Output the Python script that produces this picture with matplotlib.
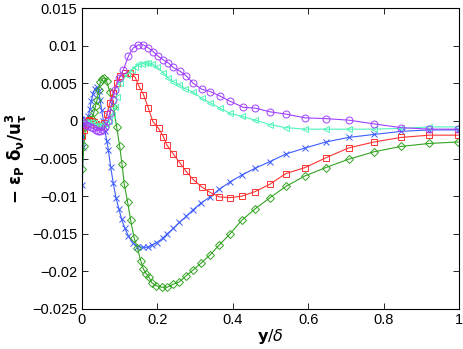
import matplotlib
matplotlib.use('Agg')
import matplotlib.pyplot as plt

plt.rcParams['font.family'] = ['Liberation Sans', 'DejaVu Sans']
plt.rcParams['mathtext.fontset'] = 'dejavusans'

# blue, x markers
x_blue = [0.001, 0.003, 0.005, 0.008, 0.011, 0.014, 0.017, 0.021, 0.025, 0.029, 0.034, 0.039,
          0.044, 0.048, 0.052, 0.057, 0.061, 0.066, 0.070, 0.076, 0.083, 0.090, 0.098, 0.105,
          0.114, 0.123, 0.134, 0.147, 0.161, 0.174, 0.185, 0.198, 0.214, 0.226, 0.242, 0.258,
          0.276, 0.295, 0.316, 0.340, 0.364, 0.393, 0.424, 0.459, 0.499, 0.541, 0.592, 0.647,
          0.707, 0.775, 0.846, 0.921, 0.998]
y_blue = [-0.0085, -0.0035, -0.0005, 0.0002, 0.0002, 0.0001, 0.0006, 0.0016, 0.0027, 0.0036, 0.0042, 0.0045,
          0.0040, 0.0028, 0.0015, 0.0000, -0.0014, -0.0027, -0.0039, -0.0061, -0.0083, -0.0102, -0.0117, -0.0131,
          -0.0143, -0.0153, -0.0162, -0.0167, -0.0168, -0.0168, -0.0165, -0.0162, -0.0156, -0.0150, -0.0143, -0.0135,
          -0.0127, -0.0118, -0.0109, -0.0101, -0.0091, -0.0081, -0.0072, -0.0063, -0.0054, -0.0044, -0.0036, -0.0028,
          -0.0022, -0.0018, -0.0014, -0.0012, -0.0012]

# green, diamonds
x_green = [0.001, 0.005, 0.009, 0.013, 0.018, 0.023, 0.027, 0.032, 0.036, 0.040, 0.044, 0.049,
           0.054, 0.059, 0.065, 0.074, 0.083, 0.092, 0.100, 0.106, 0.112, 0.121, 0.129, 0.138,
           0.147, 0.156, 0.163, 0.170, 0.178, 0.185, 0.196, 0.211, 0.226, 0.242, 0.258, 0.276,
           0.295, 0.316, 0.340, 0.364, 0.393, 0.424, 0.459, 0.499, 0.541, 0.592, 0.647, 0.707,
           0.775, 0.846, 0.921, 0.998]
y_green = [-0.0064, -0.0033, -0.0008, 0.0000, 0.0002, 0.0000, 0.0003, 0.0012, 0.0020, 0.0028, 0.0041, 0.0052,
           0.0056, 0.0057, 0.0053, 0.0039, 0.0019, -0.0008, -0.0034, -0.0057, -0.0084, -0.0108, -0.0132, -0.0155,
           -0.0169, -0.0186, -0.0197, -0.0203, -0.0208, -0.0215, -0.0219, -0.0221, -0.0221, -0.0217, -0.0214, -0.0206,
           -0.0198, -0.0189, -0.0178, -0.0165, -0.0150, -0.0132, -0.0117, -0.0102, -0.0087, -0.0073, -0.0062, -0.0051,
           -0.0041, -0.0034, -0.0030, -0.0028]

# red, squares
x_red = [0.001, 0.005, 0.009, 0.014, 0.019, 0.025, 0.031, 0.037, 0.044, 0.051, 0.058, 0.066,
         0.074, 0.083, 0.092, 0.101, 0.114, 0.127, 0.141, 0.150, 0.163, 0.176, 0.188, 0.203,
         0.216, 0.225, 0.242, 0.260, 0.276, 0.295, 0.318, 0.340, 0.364, 0.393, 0.424, 0.459,
         0.499, 0.541, 0.592, 0.647, 0.707, 0.775, 0.846, 0.921, 0.998]
y_red = [-0.0020, -0.0012, -0.0005, 0.0000, 0.0001, 0.0000, -0.0002, -0.0004, -0.0006, -0.0007, -0.0003, 0.0009,
         0.0024, 0.0037, 0.0050, 0.0059, 0.0063, 0.0064, 0.0058, 0.0047, 0.0035, 0.0017, -0.0001, -0.0010,
         -0.0021, -0.0032, -0.0044, -0.0056, -0.0067, -0.0078, -0.0088, -0.0095, -0.0101, -0.0102, -0.0100, -0.0094,
         -0.0084, -0.0070, -0.0062, -0.0049, -0.0036, -0.0028, -0.0022, -0.0019, -0.0019]

# cyan, left triangles
x_cyan = [0.001, 0.008, 0.016, 0.024, 0.032, 0.040, 0.048, 0.056, 0.064, 0.072, 0.080, 0.088,
          0.092, 0.101, 0.119, 0.132, 0.141, 0.149, 0.158, 0.167, 0.176, 0.185, 0.200, 0.216,
          0.229, 0.242, 0.258, 0.273, 0.295, 0.318, 0.340, 0.366, 0.393, 0.424, 0.459, 0.499,
          0.541, 0.592, 0.647, 0.707, 0.775, 0.846, 0.921, 0.998]
y_cyan = [0.0000, -0.0001, -0.0001, -0.0002, -0.0003, -0.0005, -0.0005, -0.0005, -0.0004, 0.0000, 0.0008, 0.0019,
          0.0032, 0.0050, 0.0061, 0.0068, 0.0071, 0.0075, 0.0076, 0.0077, 0.0077, 0.0076, 0.0071, 0.0064,
          0.0057, 0.0052, 0.0048, 0.0043, 0.0038, 0.0030, 0.0024, 0.0017, 0.0010, 0.0006, 0.0001, -0.0005,
          -0.0009, -0.0011, -0.0011, -0.0011, -0.0011, -0.0010, -0.0008, -0.0008]

# purple, circles
x_purple = [0.001, 0.005, 0.011, 0.016, 0.023, 0.029, 0.036, 0.042, 0.049, 0.056, 0.062, 0.069,
            0.074, 0.081, 0.088, 0.098, 0.110, 0.123, 0.136, 0.149, 0.163, 0.176, 0.189, 0.202,
            0.216, 0.229, 0.242, 0.260, 0.276, 0.295, 0.318, 0.340, 0.366, 0.393, 0.428, 0.459,
            0.499, 0.541, 0.592, 0.647, 0.707, 0.775, 0.846, 0.921, 0.998]
y_purple = [0.0000, -0.0003, -0.0005, -0.0007, -0.0008, -0.0010, -0.0012, -0.0013, -0.0013, -0.0012, -0.0008, 0.0000,
            0.0011, 0.0028, 0.0041, 0.0057, 0.0068, 0.0086, 0.0097, 0.0101, 0.0101, 0.0097, 0.0092, 0.0086,
            0.0081, 0.0077, 0.0071, 0.0066, 0.0060, 0.0050, 0.0042, 0.0039, 0.0033, 0.0026, 0.0018, 0.0017,
            0.0012, 0.0009, 0.0004, 0.0003, 0.0001, -0.0004, -0.0009, -0.0011, -0.0011]

xticks = [0, 0.2, 0.4, 0.6, 0.8, 1]
xticklabels = ['0', '0.2', '0.4', '0.6', '0.8', '1']
yticks = [-0.025, -0.02, -0.015, -0.01, -0.005, 0, 0.005, 0.01, 0.015]
yticklabels = ['\u22120.025', '\u22120.02', '\u22120.015', '\u22120.01', '\u22120.005', '0', '0.005', '0.01', '0.015']

fig = plt.figure(figsize=(4.63, 3.49), dpi=100)
ax = fig.add_axes([82 / 463, 40 / 349, 377 / 463, 301 / 349])

series = [
    (x_blue, y_blue, '#3d5cff', 'x', 4),
    (x_green, y_green, '#33a322', 'D', 4),
    (x_red, y_red, '#ff3333', 's', 4.5),
    (x_cyan, y_cyan, '#50f5b8', '<', 5),
    (x_purple, y_purple, '#a040ff', 'o', 5),
]
for xs, ys, c, m, ms in series:
    ax.plot(xs, ys, color=c, lw=0.8, marker=m, ms=ms, mfc='none', mec=c, mew=0.7)

ax.set_xlim(0, 1)
ax.set_ylim(-0.025, 0.015)
ax.set_xticks(xticks)
ax.set_xticklabels(xticklabels)
ax.set_yticks(yticks)
ax.set_yticklabels(yticklabels)
ax.tick_params(direction='in', top=True, right=True, length=4, width=0.6, labelsize=10.5)
ax.tick_params(axis='x', pad=3)
for s in ax.spines.values():
    s.set_linewidth(0.8)

ax.set_xlabel(r'$\mathbf{y}/\delta$', fontsize=11.5, labelpad=0)
ax.set_ylabel(r'$\mathbf{-\ \varepsilon_P\ \delta_\nu/u_\tau^3}$', fontsize=12, labelpad=2)

fig.savefig('out.png', dpi=100)
